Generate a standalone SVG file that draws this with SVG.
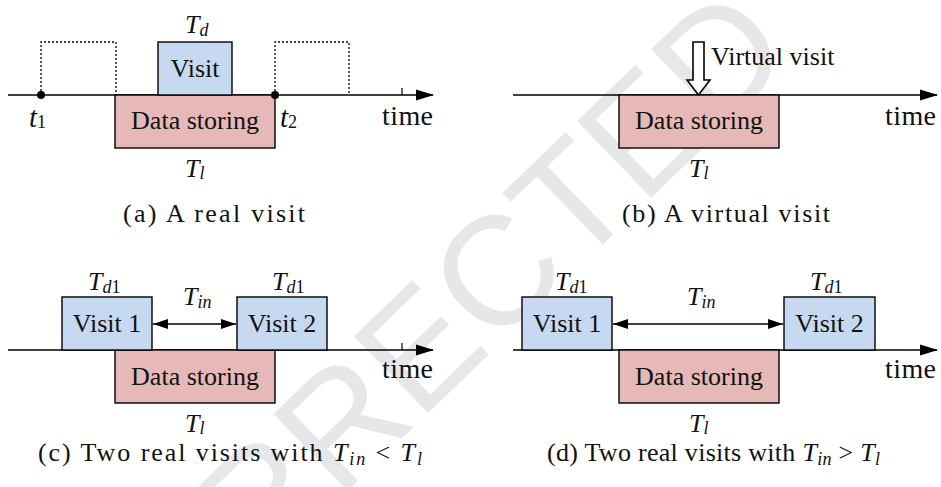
<svg xmlns="http://www.w3.org/2000/svg" width="941" height="487" viewBox="0 0 941 487">
  <style>
    text { font-family: "Liberation Serif", "Times New Roman", serif; fill: #111; }
    .lbl { font-size: 26px; }
    .time { font-size: 28px; }
    .mid { text-anchor: middle; }
    .m { font-size: 26px; font-style: italic; }
    .t { font-size: 29px; font-style: italic; }
    .sub { font-size: 18px; }
    .up { font-style: normal; }
    .cap { font-size: 26px; }
    .axis { stroke: #000; stroke-width: 1.4; fill: none; }
    .dot-line { stroke: #000; stroke-width: 1.3; fill: none; stroke-dasharray: 2 2; }
    .visit { fill: #c6d9f0; stroke: #000; stroke-width: 1.4; }
    .store { fill: #e6b8b7; stroke: #000; stroke-width: 1.4; }
    .tick { stroke: #000; stroke-width: 1.2; }
    .gap { stroke: #000; stroke-width: 1.4; fill: none; }
    .mark { font-family: "Liberation Sans", Arial, sans-serif; font-size: 155px; fill: #e6e7e9; }
  </style>
  <defs>
    <marker id="axis-head" markerWidth="18" markerHeight="12" refX="17" refY="6" orient="auto" markerUnits="userSpaceOnUse">
      <path d="M0,0.5 L18,6 L0,11.5 z" fill="#000"/>
    </marker>
    <marker id="gap-head" markerWidth="15" markerHeight="10" refX="15" refY="5" orient="auto-start-reverse" markerUnits="userSpaceOnUse">
      <path d="M0,0 L15,5 L0,10 z" fill="#000"/>
    </marker>
  </defs>

  <rect width="941" height="487" fill="#fff"/>

  <!-- proof watermark behind the figure -->
  <text class="mark" transform="translate(495 272) rotate(-44)" x="-839" y="55">UNCORRECTED</text>

  <!-- (a) a real visit -->
  <g id="panel-a">
    <g id="a-connectors">
      <line class="axis" x1="8" y1="95" x2="433" y2="95" marker-end="url(#axis-head)"/>
      <line class="tick" x1="402" y1="88" x2="402" y2="95"/>
      <polyline class="dot-line" points="41,95 41,42 116,42 116,95"/>
      <polyline class="dot-line" points="275,95 275,42 349,42 349,95"/>
    </g>
    <g id="a-store">
      <rect class="store" x="115" y="95" width="160" height="53"/>
      <text class="lbl mid" x="195" y="129">Data storing</text>
      <text class="m" x="185" y="177">T<tspan class="sub" dy="2">l</tspan></text>
    </g>
    <g id="a-visit">
      <rect class="visit" x="158" y="42" width="74" height="53"/>
      <text class="lbl mid" x="195" y="77">Visit</text>
      <text class="m" x="185" y="33">T<tspan class="sub" dy="3">d</tspan></text>
    </g>
    <g id="a-t1">
      <circle cx="41" cy="95" r="4" fill="#000"/>
      <text class="t" x="29" y="127">t<tspan class="sub up" dy="1">1</tspan></text>
    </g>
    <g id="a-t2">
      <circle cx="275" cy="95" r="4" fill="#000"/>
      <text class="t" x="280" y="127">t<tspan class="sub up" dy="1">2</tspan></text>
    </g>
    <text class="time" x="382" y="125" textLength="51">time</text>
    <text class="cap" x="123" y="222" textLength="182">(a) A real visit</text>
  </g>

  <!-- (b) a virtual visit -->
  <g id="panel-b">
    <g id="b-connectors">
      <line class="axis" x1="513" y1="95" x2="937" y2="95" marker-end="url(#axis-head)"/>
    </g>
    <g id="b-store">
      <rect class="store" x="619" y="95" width="160" height="53"/>
      <text class="lbl mid" x="699" y="129">Data storing</text>
      <text class="m" x="689" y="177">T<tspan class="sub" dy="2">l</tspan></text>
    </g>
    <g id="b-virtual">
      <path d="M693,42 L704,42 L704,80 L710,80 L698.5,95 L687,80 L693,80 Z" fill="#fff" stroke="#000" stroke-width="1.6" stroke-linejoin="miter"/>
      <text class="lbl" x="711" y="65">Virtual visit</text>
    </g>
    <text class="time" x="885" y="125" textLength="51">time</text>
    <text class="cap" x="622" y="222" textLength="208">(b) A virtual visit</text>
  </g>

  <!-- (c) two real visits, gap shorter than storing time -->
  <g id="panel-c">
    <g id="c-connectors">
      <line class="axis" x1="8" y1="350" x2="433" y2="350" marker-end="url(#axis-head)"/>
      <line class="tick" x1="402" y1="343" x2="402" y2="350"/>
      <line class="gap" x1="153" y1="324" x2="236" y2="324" marker-start="url(#gap-head)" marker-end="url(#gap-head)"/>
    </g>
    <g id="c-store">
      <rect class="store" x="115" y="350" width="160" height="53"/>
      <text class="lbl mid" x="195" y="385">Data storing</text>
      <text class="m" x="185" y="432">T<tspan class="sub" dy="2">l</tspan></text>
    </g>
    <g id="c-visit1">
      <rect class="visit" x="62" y="297" width="90" height="53"/>
      <text class="lbl mid" x="107" y="332">Visit 1</text>
      <text class="m" x="88" y="290">T<tspan class="sub" dy="3">d<tspan class="up">1</tspan></tspan></text>
    </g>
    <g id="c-visit2">
      <rect class="visit" x="237" y="297" width="90" height="53"/>
      <text class="lbl mid" x="282" y="332">Visit 2</text>
      <text class="m" x="272" y="290">T<tspan class="sub" dy="3">d<tspan class="up">1</tspan></tspan></text>
    </g>
    <text class="m" x="183" y="305">T<tspan class="sub" dy="3">in</tspan></text>
    <text class="time" x="382" y="378" textLength="51">time</text>
    <text class="cap" x="38" y="461" textLength="384">(c) Two real visits with <tspan font-style="italic">T<tspan class="sub" dy="4">in</tspan></tspan><tspan dy="-4"> &lt; </tspan><tspan font-style="italic">T<tspan class="sub" dy="4">l</tspan></tspan></text>
  </g>

  <!-- (d) two real visits, gap longer than storing time -->
  <g id="panel-d">
    <g id="d-connectors">
      <line class="axis" x1="513" y1="350" x2="937" y2="350" marker-end="url(#axis-head)"/>
      <line class="gap" x1="613" y1="324" x2="783" y2="324" marker-start="url(#gap-head)" marker-end="url(#gap-head)"/>
    </g>
    <g id="d-store">
      <rect class="store" x="619" y="350" width="160" height="53"/>
      <text class="lbl mid" x="699" y="385">Data storing</text>
      <text class="m" x="689" y="432">T<tspan class="sub" dy="2">l</tspan></text>
    </g>
    <g id="d-visit1">
      <rect class="visit" x="522" y="297" width="90" height="53"/>
      <text class="lbl mid" x="567" y="332">Visit 1</text>
      <text class="m" x="555" y="290">T<tspan class="sub" dy="3">d<tspan class="up">1</tspan></tspan></text>
    </g>
    <g id="d-visit2">
      <rect class="visit" x="784" y="297" width="91" height="53"/>
      <text class="lbl mid" x="829.5" y="332">Visit 2</text>
      <text class="m" x="810" y="290">T<tspan class="sub" dy="3">d<tspan class="up">1</tspan></tspan></text>
    </g>
    <text class="m" x="687" y="305">T<tspan class="sub" dy="3">in</tspan></text>
    <text class="time" x="885" y="378" textLength="51">time</text>
    <text class="cap" x="547" y="461" textLength="333">(d) Two real visits with <tspan font-style="italic">T<tspan class="sub" dy="4">in</tspan></tspan><tspan dy="-4"> &gt; </tspan><tspan font-style="italic">T<tspan class="sub" dy="4">l</tspan></tspan></text>
  </g>
</svg>
